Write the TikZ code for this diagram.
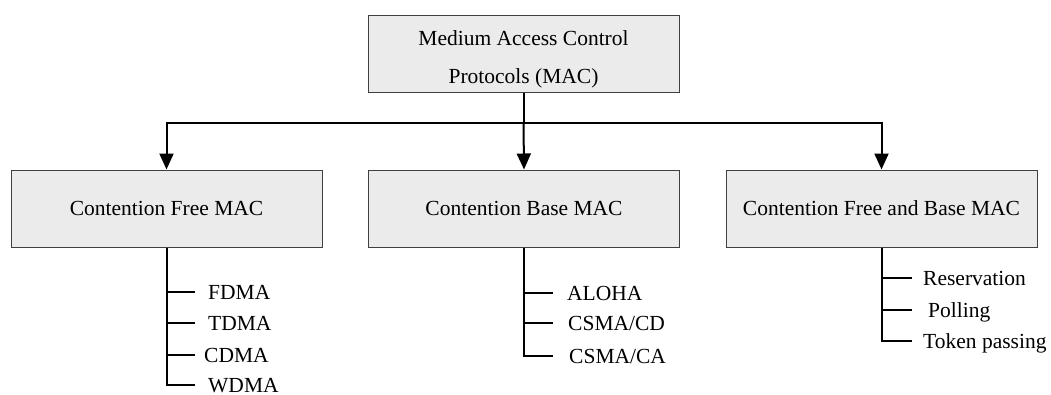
\documentclass[tikz,border=0pt]{standalone}
\usepackage{fontspec}
\setmainfont{Liberation Serif}
\usetikzlibrary{arrows.meta}

\begin{document}
\begin{tikzpicture}[x=1pt,y=-1pt,
  box/.style={draw=black!75, line width=1pt, fill=black!8,
    minimum width=311pt, minimum height=77pt, inner sep=0pt,
    font=\fontsize{21.5}{38}\selectfont, align=center},
  item/.style={anchor=west, inner sep=0pt, text height=15pt, text depth=0pt,
    font=\fontsize{21.5}{26}\selectfont},
  link/.style={line width=2pt},
  arrow/.style={link, -{Triangle[width=14pt,length=16pt]}},
]
\useasboundingbox (0,0) rectangle (1051,394);

% protocol boxes
\node[box, text height=64pt, text depth=4pt] (mac) at (523.5,53.5) {Medium Access Control\\Protocols (MAC)};
\node[box] (free) at (166.5,208.5) {Contention Free MAC};
\node[box] (base) at (524,208.5)   {Contention Base MAC};
\node[box] (both) at (881.5,208.5) {Contention Free and Base MAC};

% branching from the root box
\coordinate (bus) at (523.5,123);
\draw[link] (mac.south) -- (bus);
\draw[arrow] (bus) -| (free.north);
\draw[arrow] (bus) -- (base.north);
\draw[arrow] (bus) -| (both.north);

% contention free protocols
\node[item] (fdma) at (208,292) {FDMA};
\node[item] (tdma) at (208,323) {TDMA};
\node[item] (cdma) at (204,355) {CDMA};
\node[item] (wdma) at (208,385) {WDMA};
\draw[link] (free.south) -- (free.south |- wdma.west) -- ([xshift=-13pt]wdma.west);
\foreach \n in {fdma,tdma} \draw[link] (free.south |- \n.west) -- ([xshift=-13pt]\n.west);
\draw[link] (free.south |- cdma.west) -- ([xshift=-9pt]cdma.west);

% contention based protocols
\node[item] (aloha) at (567,293) {ALOHA};
\node[item] (cscd)  at (568,323) {CSMA/CD};
\node[item] (csca)  at (569,356) {CSMA/CA};
\draw[link] (base.south) -- (base.south |- csca.west) -- ([xshift=-16pt]csca.west);
\draw[link] (base.south |- aloha.west) -- ([xshift=-14pt]aloha.west);
\draw[link] (base.south |- cscd.west) -- ([xshift=-15pt]cscd.west);

% mixed protocols
\node[item] (resv) at (923,278) {Reservation};
\node[item] (poll) at (928,310) {Polling};
\node[item] (tokn) at (923,341) {Token passing};
\draw[link] (both.south) -- (both.south |- tokn.west) -- ([xshift=-11pt]tokn.west);
\draw[link] (both.south |- resv.west) -- ([xshift=-11pt]resv.west);
\draw[link] (both.south |- poll.west) -- ([xshift=-16pt]poll.west);
\end{tikzpicture}
\end{document}
